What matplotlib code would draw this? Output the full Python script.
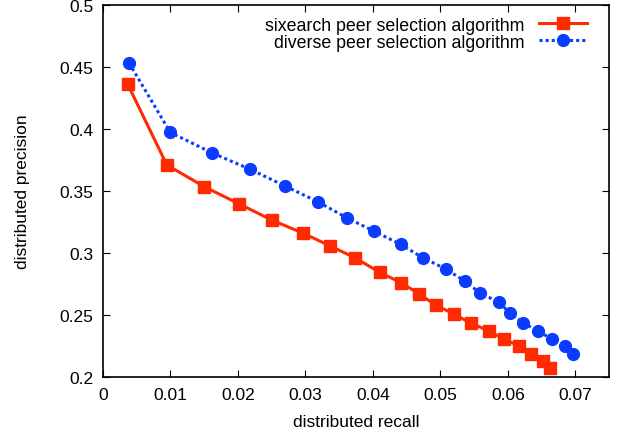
import matplotlib.pyplot as plt

plt.rcParams['font.family'] = ['Liberation Sans', 'DejaVu Sans']

# sixearch peer selection (red squares)
six_recall = [0.00367, 0.00946, 0.0150, 0.0202, 0.0250, 0.0296, 0.0337, 0.0374,
              0.0410, 0.0442, 0.0468, 0.0493, 0.0520, 0.0545, 0.0572, 0.0594,
              0.0617, 0.0634, 0.0652, 0.0662]
six_prec = [0.436, 0.371, 0.3535, 0.3395, 0.3266, 0.3161, 0.3056, 0.296,
            0.2844, 0.276, 0.2672, 0.258, 0.2508, 0.2435, 0.2371, 0.2306,
            0.225, 0.2185, 0.2129, 0.2075]

# diverse peer selection (blue circles)
div_recall = [0.00386, 0.00996, 0.0161, 0.0218, 0.0270, 0.0318, 0.0361, 0.0402,
              0.0441, 0.0474, 0.0508, 0.0536, 0.0559, 0.0587, 0.0603, 0.0623,
              0.0645, 0.0665, 0.0685, 0.0697]
div_prec = [0.4532, 0.3973, 0.3809, 0.3675, 0.354, 0.3414, 0.3285, 0.3175,
            0.307, 0.2962, 0.2871, 0.2774, 0.2677, 0.2602, 0.2516, 0.2435,
            0.2371, 0.2306, 0.2248, 0.2185]

xticks = [0, 0.01, 0.02, 0.03, 0.04, 0.05, 0.06, 0.07]
xlabels = ['0', '0.01', '0.02', '0.03', '0.04', '0.05', '0.06', '0.07']
yticks = [0.2, 0.25, 0.3, 0.35, 0.4, 0.45, 0.5]
ylabels = ['0.2', '0.25', '0.3', '0.35', '0.4', '0.45', '0.5']

fig = plt.figure(figsize=(6.18, 4.39), dpi=100)
ax = fig.add_axes([0.1667, 0.139, 0.8187, 0.8473])

ax.plot(six_recall, six_prec, color='#ff2a00', lw=2.2, marker='s', markersize=9,
        label='sixearch peer selection algorithm')
ax.plot(div_recall, div_prec, color='#0a3cff', lw=2.2, ls=(0, (1, 1)), marker='o', markersize=8.5,
        label='diverse peer selection algorithm')

ax.set_xlim(0, 0.075)
ax.set_ylim(0.2, 0.5)
ax.set_xticks(xticks)
ax.set_xticklabels(xlabels)
ax.set_yticks(yticks)
ax.set_yticklabels(ylabels)
ax.tick_params(direction='in', top=True, right=True, length=5, labelsize=12.5, pad=7)
for s in ax.spines.values():
    s.set_linewidth(1.2)

ax.set_xlabel('distributed recall', fontsize=12.5, labelpad=9)
ax.set_ylabel('distributed precision', fontsize=12.5, labelpad=21)

ax.legend(loc='upper right', bbox_to_anchor=(0.988, 1.012), frameon=False, markerfirst=False,
          fontsize=12.8, handlelength=2.7, labelspacing=0.0, handletextpad=0.8)

fig.savefig('out.png', dpi=100)
